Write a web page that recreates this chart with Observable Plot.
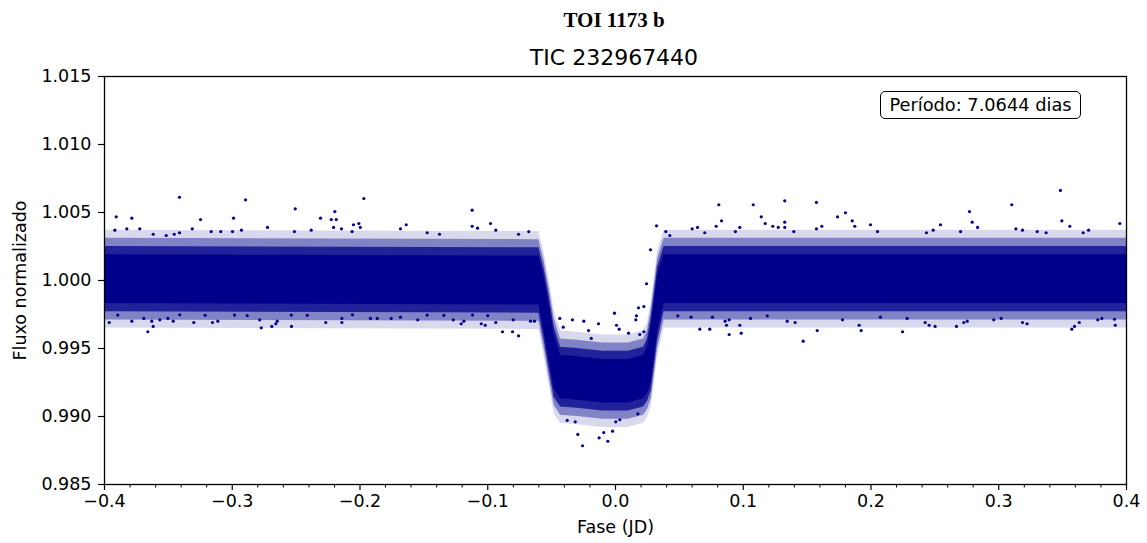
<!DOCTYPE html>
<html>
<head>
<meta charset="utf-8">
<script src="https://cdn.jsdelivr.net/npm/d3@7"></script>
<script src="https://cdn.jsdelivr.net/npm/@observablehq/plot@0.6"></script>
<style>
  html, body { margin: 0; padding: 0; background: white; }
  #wrap { position: relative; width: 1147px; height: 543px; overflow: hidden; background: white; }
  #header { position: relative; height: 66px; }
  .t1 { position: absolute; left: 0; width: 1228px; text-align: center; top: 10px;
        font-family: "Liberation Serif", "Times New Roman", serif; font-weight: bold; font-size: 21px; line-height: 21px; color: black; }
  .t2 { position: absolute; left: 0; width: 1228px; text-align: center; top: 47px;
        font-family: "DejaVu Sans", sans-serif; font-size: 22px; line-height: 22px; color: black; }
  #note { position: absolute; left: 880px; top: 91px; width: 199px; height: 26px;
          border: 1.5px solid black; border-radius: 5px; background: white;
          font-family: "DejaVu Sans", sans-serif; font-size: 17.8px; line-height: 26px; text-align: center; color: black; }
  svg { display: block; }
</style>
</head>
<body>
<div id="wrap">
  <div id="header">
    <div class="t1">TOI 1173 b</div>
    <div class="t2">TIC 232967440</div>
  </div>
  <div id="chart"></div>
  <div id="note">Período: 7.0644 dias</div>
</div>
<script>
// ---- Data ----
// Envelope of the dense band of points (phase knots, JD)
const phaseKnots = [-0.400, -0.060, -0.056, -0.052, -0.048, -0.043, -0.030, -0.010, 0.010, 0.022, 0.025, 0.028, 0.033, 0.038, 0.400];
// densest core
const coreLo   = [0.9983, 0.9982, 0.9963, 0.9941, 0.9920, 0.9913, 0.9912, 0.9910, 0.9910, 0.9913, 0.9917, 0.9925, 0.9962, 0.9983, 0.9983];
const coreHi   = [1.0019, 1.0018, 1.0003, 0.9983, 0.9960, 0.9945, 0.9944, 0.9942, 0.9942, 0.9945, 0.9951, 0.9967, 1.0004, 1.0019, 1.0019];
// dense band
const midLo    = [0.9977, 0.9976, 0.9957, 0.9935, 0.9914, 0.9907, 0.9906, 0.9904, 0.9904, 0.9907, 0.9911, 0.9919, 0.9956, 0.9977, 0.9977];
const midHi    = [1.0025, 1.0024, 1.0009, 0.9989, 0.9966, 0.9951, 0.9950, 0.9948, 0.9948, 0.9951, 0.9957, 0.9973, 1.0010, 1.0025, 1.0025];
// thinning edge
const outerLo  = [0.9971, 0.9970, 0.9951, 0.9929, 0.9908, 0.9901, 0.9900, 0.9898, 0.9898, 0.9901, 0.9905, 0.9913, 0.9950, 0.9971, 0.9971];
const outerHi  = [1.0031, 1.0030, 1.0015, 0.9995, 0.9972, 0.9957, 0.9956, 0.9954, 0.9954, 0.9957, 0.9963, 0.9979, 1.0016, 1.0031, 1.0031];
// sparse fringe
const fringeLo = [0.9965, 0.9964, 0.9945, 0.9923, 0.9902, 0.9895, 0.9894, 0.9892, 0.9892, 0.9895, 0.9899, 0.9907, 0.9944, 0.9965, 0.9965];
const fringeHi = [1.0037, 1.0036, 1.0021, 1.0001, 0.9978, 0.9963, 0.9962, 0.9960, 0.9960, 0.9963, 0.9969, 0.9985, 1.0022, 1.0037, 1.0037];

// Individual scattered points outside the dense band
const ptPhase = [
  -0.3413, -0.2896, -0.1970, -0.2507, -0.1122, -0.2197, -0.3908, -0.3786, -0.3248, -0.2990,
  -0.2309, -0.2225, -0.2186, -0.0978, -0.2009, -0.2051, -0.1638, -0.1122, -0.1080, -0.2724,
  -0.2207, -0.2145, -0.1998, -0.1683, -0.3919, -0.3825, -0.3724, -0.3313, -0.2998, -0.2928,
  -0.0937, -0.0679, -0.2513, -0.2382, -0.3165, -0.3090, -0.3413, -0.3454, -0.2062, -0.1474,
  -0.1378, -0.0759, -0.3619, -0.3517,
  0.3483, 0.0809, 0.1078, 0.1325, 0.1573, 0.3102, 0.2771, 0.1800, 0.1738, 0.1141,
  0.3948, 0.0830, 0.0788, 0.1325, 0.1325, 0.1172, 0.1231, 0.1274, 0.1853, 0.1873,
  0.1996, 0.2792, 0.2834, 0.3494, 0.3556, 0.2544, 0.1615, 0.1573, 0.3134, 0.3186,
  0.0642, 0.0600, 0.0973, 0.0939, 0.0394, 0.0425, 0.3703, 0.3661, 0.2487, 0.2434,
  0.2701, 0.3371, 0.3301, 0.2051, 0.0699, 0.1396,
  -0.3661, -0.2773, -0.2690, -0.2536, -0.0885, -0.0806, -0.0759, -0.3619, -0.3630, -0.3786,
  -0.3963, -0.3692, -0.3567, -0.3504, -0.3462, -0.3301, -0.3155, -0.3113, -0.2785, -0.2648,
  -0.2659, -0.2268, -0.2142, -0.2142, -0.1918, -0.1865, -0.1756, -0.1683, -0.1548, -0.1270,
  -0.1187, -0.1208, -0.1051, -0.1020, -0.0937, -0.0801, -0.0665, -0.0634,
  -0.3896, -0.3411, -0.3212, -0.2982, -0.2883, -0.2538, -0.2413, -0.2059, -0.1474, -0.1344,
  -0.1119, -0.1000,
  0.1469, 0.0890, 0.0984, 0.0660, 0.0738, 0.1579, 0.1923, 0.2247, 0.3572, 0.3593,
  0.3630, 0.0869, 0.0973, 0.0858, 0.0890, 0.1907, 0.2424, 0.2455, 0.2502, 0.2669,
  0.2753, 0.2726, 0.3186, 0.3222, 0.3019, 0.2961, 0.3807, 0.3906, 0.3912, 0.3775,
  0.1344, 0.1406, 0.0488, 0.0592, 0.0759, 0.1057, 0.1188, 0.1777, 0.2074, 0.2283,
  0.0321, 0.0274, 0.0243, 0.0180, 0.0222, 0.0164, 0.0159, -0.0008, -0.0337, -0.0248,
  -0.0133, 0.0008, 0.0029, -0.0211, -0.0190, 0.0102, 0.0190, 0.0222, -0.0409, -0.0436,
  -0.0258, -0.0295, -0.0128, -0.0092, -0.0060, -0.0023, -0.0378, -0.0315, 0.0002, 0.0034,
  0.0175
];
const ptFlux = [
  1.00612, 1.00593, 1.00603, 1.00527, 1.00517, 1.00507, 1.00468, 1.00458, 1.00448, 1.00458,
  1.00458, 1.00448, 1.00448, 1.00419, 1.00419, 1.00410, 1.00410, 1.00399, 1.00385, 1.00390,
  1.00390, 1.00380, 1.00390, 1.00380, 1.00370, 1.00380, 1.00380, 1.00380, 1.00360, 1.00370,
  1.00370, 1.00360, 1.00360, 1.00370, 1.00360, 1.00360, 1.00351, 1.00340, 1.00360, 1.00351,
  1.00340, 1.00340, 1.00340, 1.00331,
  1.00662, 1.00557, 1.00557, 1.00586, 1.00574, 1.00557, 1.00507, 1.00498, 1.00468, 1.00468,
  1.00419, 1.00439, 1.00399, 1.00429, 1.00390, 1.00419, 1.00399, 1.00390, 1.00439, 1.00399,
  1.00410, 1.00429, 1.00390, 1.00439, 1.00399, 1.00410, 1.00399, 1.00380, 1.00380, 1.00370,
  1.00390, 1.00380, 1.00390, 1.00360, 1.00360, 1.00331, 1.00370, 1.00351, 1.00370, 1.00351,
  1.00360, 1.00351, 1.00360, 1.00360, 1.00351, 1.00360,
  0.99623, 0.99652, 0.99662, 0.99662, 0.99623, 0.99623, 0.99593, 0.99662, 0.99701, 0.99701,
  0.99691, 0.99721, 0.99711, 0.99721, 0.99701, 0.99691, 0.99691, 0.99701, 0.99711, 0.99701,
  0.99682, 0.99691, 0.99691, 0.99721, 0.99721, 0.99721, 0.99721, 0.99730, 0.99711, 0.99711,
  0.99701, 0.99682, 0.99682, 0.99671, 0.99691, 0.99711, 0.99701, 0.99701,
  0.99746, 0.99748, 0.99744, 0.99746, 0.99742, 0.99746, 0.99744, 0.99748, 0.99746, 0.99744,
  0.99746, 0.99742,
  0.99554, 0.99603, 0.99613, 0.99642, 0.99642, 0.99632, 0.99632, 0.99623, 0.99642, 0.99662,
  0.99691, 0.99671, 0.99671, 0.99701, 0.99711, 0.99671, 0.99691, 0.99671, 0.99662, 0.99662,
  0.99701, 0.99691, 0.99691, 0.99682, 0.99721, 0.99711, 0.99721, 0.99715, 0.99671, 0.99711,
  0.99701, 0.99691, 0.99740, 0.99730, 0.99730, 0.99721, 0.99740, 0.99711, 0.99730, 0.99721,
  1.00402, 1.00226, 0.99976, 0.99799, 0.99809, 0.99740, 0.99711, 0.99760, 0.99711, 0.99701,
  0.99682, 0.99671, 0.99642, 0.99632, 0.99574, 0.99613, 0.99603, 0.99623, 0.99657, 0.99721,
  0.98785, 0.98868, 0.98843, 0.98882, 0.98818, 0.98892, 0.98971, 0.98961, 0.98961, 0.98976,
  0.99020
];

// Axis ticks
const xTicks = [-0.4, -0.3, -0.2, -0.1, 0.0, 0.1, 0.2, 0.3, 0.4];
const xMinorTicks = [-0.38, -0.36, -0.34, -0.32, -0.28, -0.26, -0.24, -0.22, -0.18, -0.16, -0.14, -0.12,
                     -0.08, -0.06, -0.04, -0.02, 0.02, 0.04, 0.06, 0.08, 0.12, 0.14, 0.16, 0.18,
                     0.22, 0.24, 0.26, 0.28, 0.32, 0.34, 0.36, 0.38];
const yTicks = [0.985, 0.990, 0.995, 1.000, 1.005, 1.010, 1.015];

const xLabel = "Fase (JD)";
const yLabel = "Fluxo normalizado";

// ---- Build tables ----
const band = phaseKnots.map((p, i) => ({
  phase: p,
  coreLo: coreLo[i], coreHi: coreHi[i],
  midLo: midLo[i], midHi: midHi[i],
  outerLo: outerLo[i], outerHi: outerHi[i],
  fringeLo: fringeLo[i], fringeHi: fringeHi[i]
}));
const points = ptPhase.map((p, i) => ({phase: p, flux: ptFlux[i]}));

const dotColor = "#00008b";

const chart = Plot.plot({
  width: 1147,
  height: 477,
  marginTop: 10,
  marginBottom: 59,
  marginLeft: 104,
  marginRight: 21,
  style: {fontFamily: "DejaVu Sans, sans-serif", fontSize: "17.5px", color: "black", background: "white", overflow: "visible"},
  x: {domain: [-0.4, 0.4]},
  y: {domain: [0.985, 1.015]},
  marks: [
    Plot.areaY(band, {x: "phase", y1: "fringeLo", y2: "fringeHi", fill: dotColor, fillOpacity: 0.15, curve: "linear"}),
    Plot.areaY(band, {x: "phase", y1: "outerLo", y2: "outerHi", fill: dotColor, fillOpacity: 0.4, curve: "linear"}),
    Plot.areaY(band, {x: "phase", y1: "midLo", y2: "midHi", fill: dotColor, fillOpacity: 0.75, curve: "linear"}),
    Plot.areaY(band, {x: "phase", y1: "coreLo", y2: "coreHi", fill: dotColor, fillOpacity: 1, curve: "linear"}),
    Plot.dot(points, {x: "phase", y: "flux", r: 1.6, fill: dotColor, stroke: "none"}),
    Plot.frame({stroke: "black", strokeWidth: 1.3}),
    Plot.axisX(xMinorTicks, {anchor: "bottom", tickSize: 3.5, strokeWidth: 1, tickFormat: () => "", label: null}),
    Plot.axisX(xTicks, {anchor: "bottom", tickSize: 6, tickPadding: 4, strokeWidth: 1.2, tickFormat: d3.format(".1f"), label: null}),
    Plot.axisY(yTicks, {anchor: "left", tickSize: 6, tickPadding: 7, strokeWidth: 1.2, tickFormat: d3.format(".3f"), label: null}),
    Plot.text([xLabel], {text: d => d, frameAnchor: "bottom", dy: 43, lineAnchor: "middle", fontSize: 17.5}),
    Plot.text([yLabel], {text: d => d, frameAnchor: "left", dx: -84, rotate: -90, lineAnchor: "middle", textAnchor: "middle", fontSize: 17.5})
  ]
});
document.getElementById("chart").appendChild(chart);
</script>
</body>
</html>
